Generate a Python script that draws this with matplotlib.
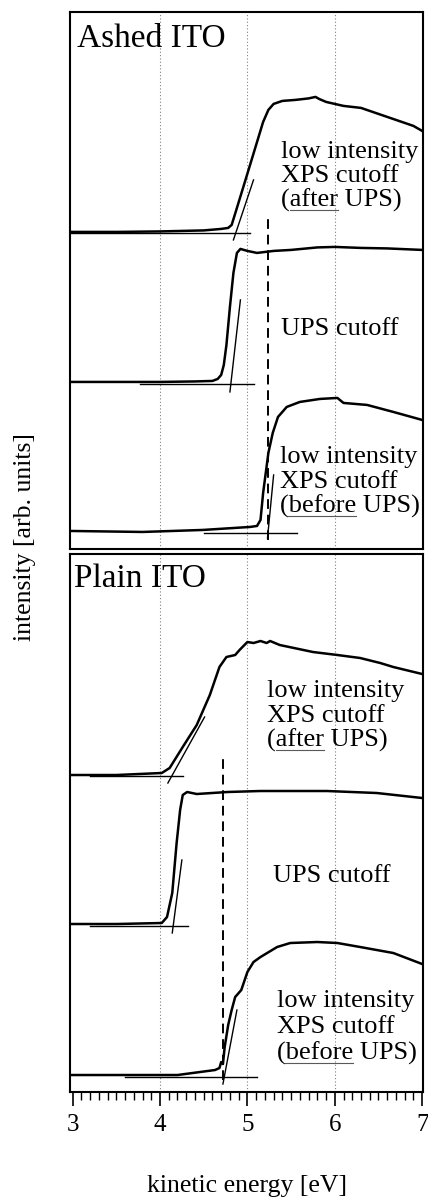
"""Secondary-electron cutoff spectra of ashed and plain ITO (UPS vs low intensity XPS)."""

import matplotlib

matplotlib.use("Agg")
import matplotlib.pyplot as plt
from matplotlib.ticker import MultipleLocator

plt.rcParams["font.family"] = ["Liberation Serif", "DejaVu Serif"]

# ---- data (intensity in arb. units) ----
# Ashed ITO
ashed_after_e = [2.97, 3.5, 4.0, 4.5, 4.70, 4.78, 4.82, 4.88, 4.95, 5.02, 5.10, 5.18, 5.24,
                 5.30, 5.40, 5.55, 5.70, 5.78, 5.82, 5.90, 6.10, 6.30, 6.50, 6.70, 6.90, 7.00]
ashed_after_i = [317, 317, 317.5, 318.5, 320, 321, 324, 341, 361, 381, 404, 427, 439,
                 445, 448, 449, 450.5, 452, 450, 447, 443, 441, 435, 429, 423, 418]
ashed_after_fit_e = [4.84, 5.07]
ashed_after_fit_i = [309, 369]
ashed_after_base_e = [2.97, 5.03]
ashed_after_base_i = [316, 316]

ashed_ups_e = [2.97, 3.5, 4.0, 4.4, 4.6, 4.66, 4.70, 4.73, 4.76, 4.80, 4.84, 4.88, 4.92,
               4.96, 5.0, 5.11, 5.3, 5.5, 5.8, 6.0, 6.3, 6.6, 7.0]
ashed_ups_i = [167, 167, 167, 167.5, 168, 170, 174, 184, 204, 242, 276, 296, 300,
               299, 298, 296, 298, 299, 301.5, 302, 301, 300.5, 299]
ashed_ups_fit_e = [4.80, 4.92]
ashed_ups_fit_i = [157, 249]
ashed_ups_base_e = [3.77, 5.07]
ashed_ups_base_i = [165, 165]

ashed_before_e = [2.97, 3.8, 4.49, 5.03, 5.11, 5.15, 5.18, 5.24, 5.29, 5.35, 5.45, 5.60,
                  5.83, 6.03, 6.10, 6.37, 6.67, 7.0]
ashed_before_i = [18, 17, 19, 22, 23, 29, 56, 96, 116, 132, 142, 147,
                  150, 151, 146, 144, 137, 129]
ashed_before_fit_e = [5.23, 5.30]
ashed_before_fit_i = [11, 74]
ashed_before_base_e = [4.5, 5.57]
ashed_before_base_i = [16, 16]

ashed_cutoff = 5.24
ashed_cutoff_span = [9, 331]

# Plain ITO
plain_after_e = [2.97, 3.5, 4.02, 4.11, 4.26, 4.42, 4.57, 4.68, 4.76, 4.86, 4.91, 5.0,
                 5.07, 5.15, 5.22, 5.26, 5.37, 5.75, 6.03, 6.29, 6.52, 6.67, 7.0]
plain_after_i = [317, 317, 319, 324, 345, 367, 397, 425, 435, 437, 442, 450,
                 449, 451, 449, 451, 447, 440, 437, 434, 429, 425, 418]
plain_after_fit_e = [4.09, 4.51]
plain_after_fit_i = [309, 375]
plain_after_base_e = [3.2, 4.26]
plain_after_base_i = [316, 316]

plain_ups_e = [2.97, 3.5, 4.02, 4.08, 4.14, 4.19, 4.23, 4.26, 4.31, 4.42, 4.77, 5.15,
               5.91, 6.48, 7.0]
plain_ups_i = [168, 168, 169, 175, 199, 249, 282, 297, 300, 298, 300, 301,
               301, 299, 294]
plain_ups_fit_e = [4.14, 4.25]
plain_ups_fit_i = [159, 232]
plain_ups_base_e = [3.2, 4.32]
plain_ups_base_i = [166, 166]

plain_before_e = [2.97, 3.5, 4.2, 4.63, 4.68, 4.70, 4.72, 4.74, 4.78, 4.82, 4.86, 4.93,
                  5.0, 5.07, 5.15, 5.34, 5.49, 5.80, 6.03, 6.29, 6.67, 7.0]
plain_before_i = [17, 17, 17, 22, 24, 30, 28, 45, 67, 82, 95, 102,
                  120, 130, 135, 145, 149, 150, 149, 145, 139, 128]
plain_before_fit_e = [4.72, 4.88]
plain_before_fit_i = [8, 82]
plain_before_base_e = [3.6, 5.11]
plain_before_base_i = [15, 15]

plain_cutoff = 4.72
plain_cutoff_span = [12, 336]

grid_e = [4, 5, 6]

TXT = 19

fig = plt.figure(figsize=(4.28, 12.02), dpi=100)
ax1 = fig.add_axes([0.1636, 0.5433, 0.8248, 0.4468])
ax2 = fig.add_axes([0.1636, 0.0915, 0.8248, 0.4476])


def draw_panel(ax, curves, cutoff, span):
    for e, i, fe, fi, be, bi in curves:
        ax.plot(e, i, color="black", lw=1.8, solid_joinstyle="round")
        ax.plot(fe, fi, color="black", lw=1.0)
        ax.plot(be, bi, color="black", lw=1.0)
    ax.plot([cutoff, cutoff], span, color="black", lw=1.4, linestyle=(0, (5, 3)))
    for g in grid_e:
        ax.axvline(g, color="0.5", lw=0.8, linestyle=(0, (1, 2)), zorder=0)
    ax.set_xlim(2.97, 7.01)
    ax.set_yticks([])
    for s in ax.spines.values():
        s.set_linewidth(1.5)


draw_panel(ax1, [
    (ashed_after_e, ashed_after_i, ashed_after_fit_e, ashed_after_fit_i, ashed_after_base_e, ashed_after_base_i),
    (ashed_ups_e, ashed_ups_i, ashed_ups_fit_e, ashed_ups_fit_i, ashed_ups_base_e, ashed_ups_base_i),
    (ashed_before_e, ashed_before_i, ashed_before_fit_e, ashed_before_fit_i, ashed_before_base_e, ashed_before_base_i),
], ashed_cutoff, ashed_cutoff_span)
ax1.set_ylim(0, 537)
ax1.tick_params(bottom=False, labelbottom=False)

draw_panel(ax2, [
    (plain_after_e, plain_after_i, plain_after_fit_e, plain_after_fit_i, plain_after_base_e, plain_after_base_i),
    (plain_ups_e, plain_ups_i, plain_ups_fit_e, plain_ups_fit_i, plain_ups_base_e, plain_ups_base_i),
    (plain_before_e, plain_before_i, plain_before_fit_e, plain_before_fit_i, plain_before_base_e, plain_before_base_i),
], plain_cutoff, plain_cutoff_span)
ax2.set_ylim(0, 538)
ax2.xaxis.set_major_locator(MultipleLocator(1))
ax2.xaxis.set_minor_locator(MultipleLocator(0.1))
ax2.tick_params(axis="x", which="major", direction="out", length=10, width=1.2,
                labelsize=18, pad=6)
ax2.tick_params(axis="x", which="minor", direction="out", length=5.5, width=1.0)
ax2.set_xlabel("kinetic energy [eV]", fontsize=18.5, labelpad=28)

fig.text(0.058, 0.553, "intensity [arb. units]", rotation=90, fontsize=18.5,
         ha="center", va="center")

ax1.text(3.054, 502, "Ashed ITO", fontsize=24)
ax2.text(3.02, 505, "Plain ITO", fontsize=24)


def label_block(ax, x, ys, lines, word=None):
    for y, line in zip(ys, lines):
        ax.text(x, y, line, fontsize=TXT)
    if word is None:
        return
    # underline the word on the last line
    r = fig.canvas.get_renderer()
    y = ys[-1]
    full = ax.text(x, y, "(" + word, fontsize=TXT)
    only = ax.text(x, y, word, fontsize=TXT)
    x1 = full.get_window_extent(r).x1
    x0 = x1 - only.get_window_extent(r).width
    full.remove()
    only.remove()
    inv = ax.transData.inverted()
    e0 = inv.transform((x0, 0))[0]
    e1 = inv.transform((x1, 0))[0]
    ax.plot([e0, e1], [y - 3, y - 3], color="0.35", lw=0.8)


label_block(ax1, 5.39, [391, 367, 342], ["low intensity", "XPS cutoff", "(after UPS)"], "after")
label_block(ax1, 5.39, [214], ["UPS cutoff"])
label_block(ax1, 5.37, [86, 61, 36], ["low intensity", "XPS cutoff", "(before UPS)"], "before")

label_block(ax2, 5.23, [395, 370, 345], ["low intensity", "XPS cutoff", "(after UPS)"], "after")
label_block(ax2, 5.29, [210], ["UPS cutoff"])
label_block(ax2, 5.335, [85, 59, 32], ["low intensity", "XPS cutoff", "(before UPS)"], "before")

fig.savefig("out.png", dpi=100)
